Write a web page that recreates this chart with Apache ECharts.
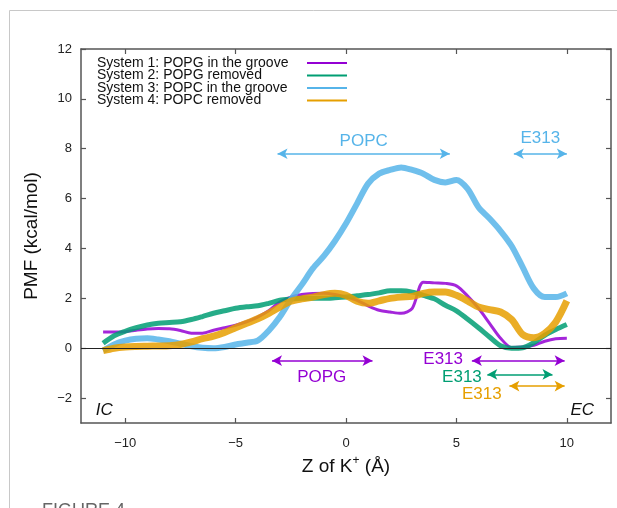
<!DOCTYPE html>
<html>
<head>
<meta charset="utf-8">
<script src="https://cdn.jsdelivr.net/npm/echarts@6/dist/echarts.min.js"></script>
<style>
  html, body { margin: 0; padding: 0; background: #fff; }
  #chart { width: 617px; height: 508px; }
</style>
</head>
<body>
<div id="chart"></div>
<script>
// reaction coordinate, Z of K+ (Å)
const zValues = [-11, -10.5, -10, -9.5, -9, -8.5, -8, -7.5, -7, -6.5, -6, -5.5, -5, -4.5, -4, -3.5, -3, -2.5, -2, -1.5, -1, -0.5,
  0, 0.5, 1, 1.5, 2, 2.5, 3, 3.5, 4, 4.5, 5, 5.5, 6, 6.5, 7, 7.5, 8, 8.5, 9, 9.5, 10]

// PMF (kcal/mol)
const sys1PopgGroove = [0.65, 0.65, 0.66, 0.72, 0.77, 0.79, 0.78, 0.71, 0.6, 0.6, 0.72, 0.82, 0.92, 1.06, 1.25, 1.5, 1.85, 2.05, 2.15, 2.19, 2.2, 2.15,
  2.05, 1.92, 1.7, 1.52, 1.45, 1.4, 1.6, 2.65, 2.62, 2.6, 2.5, 2.1, 1.6, 1.0, 0.4, 0.03, 0.05, 0.12, 0.28, 0.38, 0.4]
const sys2PopgRemoved = [0.2, 0.5, 0.68, 0.82, 0.93, 1.0, 1.03, 1.06, 1.15, 1.27, 1.4, 1.5, 1.6, 1.66, 1.7, 1.8, 1.92, 1.97, 2.0, 2.0, 2.0, 2.02,
  2.05, 2.1, 2.15, 2.22, 2.3, 2.3, 2.25, 2.12, 1.98, 1.72, 1.5, 1.17, 0.82, 0.45, 0.1, 0.0, 0.02, 0.22, 0.52, 0.75, 0.95]
const sys3PopcGroove = [-0.1, 0.15, 0.3, 0.38, 0.4, 0.35, 0.28, 0.18, 0.08, 0.02, 0.0, 0.05, 0.15, 0.22, 0.3, 0.7, 1.25, 1.95, 2.55, 3.2, 3.7, 4.3,
  5.0, 5.8, 6.6, 7.0, 7.15, 7.25, 7.15, 7.0, 6.75, 6.65, 6.75, 6.4, 5.65, 5.2, 4.7, 4.1, 3.25, 2.4, 2.05, 2.05, 2.2]
const sys4PopcRemoved = [-0.1, 0.0, 0.05, 0.07, 0.08, 0.09, 0.1, 0.15, 0.25, 0.38, 0.48, 0.63, 0.82, 1.0, 1.18, 1.4, 1.65, 1.88, 1.98, 2.05, 2.15, 2.2,
  2.12, 1.88, 1.8, 1.9, 2.0, 2.05, 2.08, 2.2, 2.25, 2.25, 2.12, 1.9, 1.65, 1.55, 1.45, 1.15, 0.55, 0.42, 0.6, 1.05, 1.9]

const seriesNames = ['System 1: POPG in the groove', 'System 2: POPG removed', 'System 3: POPC in the groove', 'System 4: POPC removed']

const xTicks = [-10, -5, 0, 5, 10]
const yTicks = [-2, 0, 2, 4, 6, 8, 10, 12]

// double arrows: [system index, z from, z to, PMF level]
const arrows = [
  [2, -3.1, 4.7, 7.8],
  [2, 7.6, 10, 7.8],
  [0, -3.35, 1.2, -0.5],
  [0, 5.7, 9.9, -0.5],
  [1, 6.4, 9.35, -1.05],
  [3, 7.4, 9.9, -1.52]
]
// annotation texts: [system index, text, z, PMF level]
const notes = [
  [2, 'POPC', 0.8, 8.3],
  [2, 'E313', 8.8, 8.4],
  [0, 'POPG', -1.1, -1.15],
  [0, 'E313', 4.4, -0.45],
  [1, 'E313', 5.25, -1.15],
  [3, 'E313', 6.15, -1.85]
]
const sides = [['IC', -10.95, -2.48], ['EC', 10.7, -2.48]]

const colors = ['#9400d3', '#009e73', '#56b4e9', '#e69f00']
const widths = [3, 5, 6, 7]

const minus = v => (v < 0 ? '\u2212' + (-v) : String(v))
const font = 'Liberation Sans, Arial, Helvetica, sans-serif'

const chart = echarts.init(document.getElementById('chart'))
const curves = [sys1PopgGroove, sys2PopgRemoved, sys3PopcGroove, sys4PopcRemoved]

const series = curves.map((vals, k) => {
  return {
    name: seriesNames[k],
    type: 'line',
    smooth: 0.3,
    symbol: 'none',
    color: colors[k],
    lineStyle: { width: widths[k], opacity: 0.85 },
    data: zValues.map((z, i) => [z, vals[i]]),
    markLine: {
      silent: true,
      symbol: ['arrow', 'arrow'],
      symbolSize: [8, 10],
      label: { show: false },
      lineStyle: { color: colors[k], width: 1.5, type: 'solid', opacity: 1 },
      data: arrows.filter(a => a[0] === k).map(a => [{ coord: [a[1], a[3]] }, { coord: [a[2], a[3]] }])
    },
    markPoint: {
      silent: true,
      symbol: 'circle',
      symbolSize: 0,
      label: {
        show: true,
        position: 'inside',
        color: colors[k],
        fontSize: 17,
        fontFamily: font,
        formatter: p => p.name
      },
      data: notes.filter(n => n[0] === k).map(n => ({ name: n[1], coord: [n[2], n[3]] }))
    }
  }
})

// zero line + IC / EC labels
series.push({
  name: 'frame',
  type: 'line',
  data: [],
  symbol: 'none',
  z: 1,
  markLine: {
    silent: true,
    symbol: 'none',
    label: { show: false },
    lineStyle: { color: '#222', width: 1, type: 'solid' },
    data: [{ yAxis: 0 }]
  },
  markPoint: {
    silent: true,
    symbol: 'circle',
    symbolSize: 0,
    label: {
      show: true,
      position: 'inside',
      color: '#111',
      fontSize: 17,
      fontStyle: 'italic',
      fontFamily: font,
      formatter: p => p.name
    },
    data: sides.map(s => ({ name: s[0], coord: [s[1], s[2]] }))
  }
})

const axisLine = { show: true, onZero: false, lineStyle: { color: '#555', width: 1.5 } }
const tickStyle = { color: '#555', width: 1.2 }

const option = {
  animation: false,
  backgroundColor: '#fff',
  grid: { left: 81, right: 6, top: 49, bottom: 85 },
  legend: {
    data: seriesNames,
    orient: 'vertical',
    left: 92,
    top: 51,
    align: 'right',
    icon: 'rect',
    itemWidth: 40,
    itemHeight: 2,
    itemGap: -1.5,
    formatter: n => '{a|' + n + '}',
    textStyle: {
      fontSize: 14, fontFamily: font, color: '#111', lineHeight: 12.5,
      rich: { a: { width: 205, align: 'left', fontSize: 14, fontFamily: font, color: '#111', lineHeight: 12.5 } }
    }
  },
  xAxis: [{
    type: 'value',
    min: -12,
    max: 12,
    position: 'bottom',
    name: 'Z of K{sup|+} (Å)',
    nameLocation: 'middle',
    nameGap: 30,
    nameTextStyle: {
      fontSize: 19, fontFamily: font, color: '#111',
      rich: { sup: { fontSize: 12, verticalAlign: 'top', padding: [0, 0, 12, 0], fontFamily: font, color: '#111' } }
    },
    axisLine,
    axisTick: { show: true, inside: true, length: 5, customValues: xTicks, lineStyle: tickStyle },
    axisLabel: { customValues: xTicks, formatter: minus, fontSize: 13, fontFamily: font, color: '#222', margin: 14 },
    splitLine: { show: false }
  }, {
    type: 'value',
    min: -12,
    max: 12,
    position: 'top',
    axisLine,
    axisTick: { show: true, inside: true, length: 5, customValues: xTicks, lineStyle: tickStyle },
    axisLabel: { show: false },
    splitLine: { show: false }
  }],
  yAxis: [{
    type: 'value',
    min: -3,
    max: 12,
    position: 'left',
    name: 'PMF (kcal/mol)',
    nameLocation: 'middle',
    nameGap: 40,
    nameTextStyle: { fontSize: 19, fontFamily: font, color: '#111' },
    axisLine,
    axisTick: { show: true, inside: true, length: 5, customValues: yTicks, lineStyle: tickStyle },
    axisLabel: { customValues: yTicks, formatter: minus, fontSize: 13, fontFamily: font, color: '#222', margin: 9 },
    splitLine: { show: false }
  }, {
    type: 'value',
    min: -3,
    max: 12,
    position: 'right',
    axisLine,
    axisTick: { show: true, inside: true, length: 5, customValues: yTicks, lineStyle: tickStyle },
    axisLabel: { show: false },
    splitLine: { show: false }
  }],
  graphic: [
    { type: 'line', shape: { x1: 9.5, y1: 10.5, x2: 617, y2: 10.5 }, style: { stroke: '#c8c8c8', lineWidth: 1 } },
    { type: 'line', shape: { x1: 9.5, y1: 10.5, x2: 9.5, y2: 508 }, style: { stroke: '#c8c8c8', lineWidth: 1 } },
    { type: 'text', left: 42, top: 502, style: { text: 'FIGURE 4', fontSize: 18, fontFamily: font, fill: '#666' } }
  ],
  series
}

chart.setOption(option)
window.addEventListener('resize', function () {
  chart.resize()
})
</script>
</body>
</html>
